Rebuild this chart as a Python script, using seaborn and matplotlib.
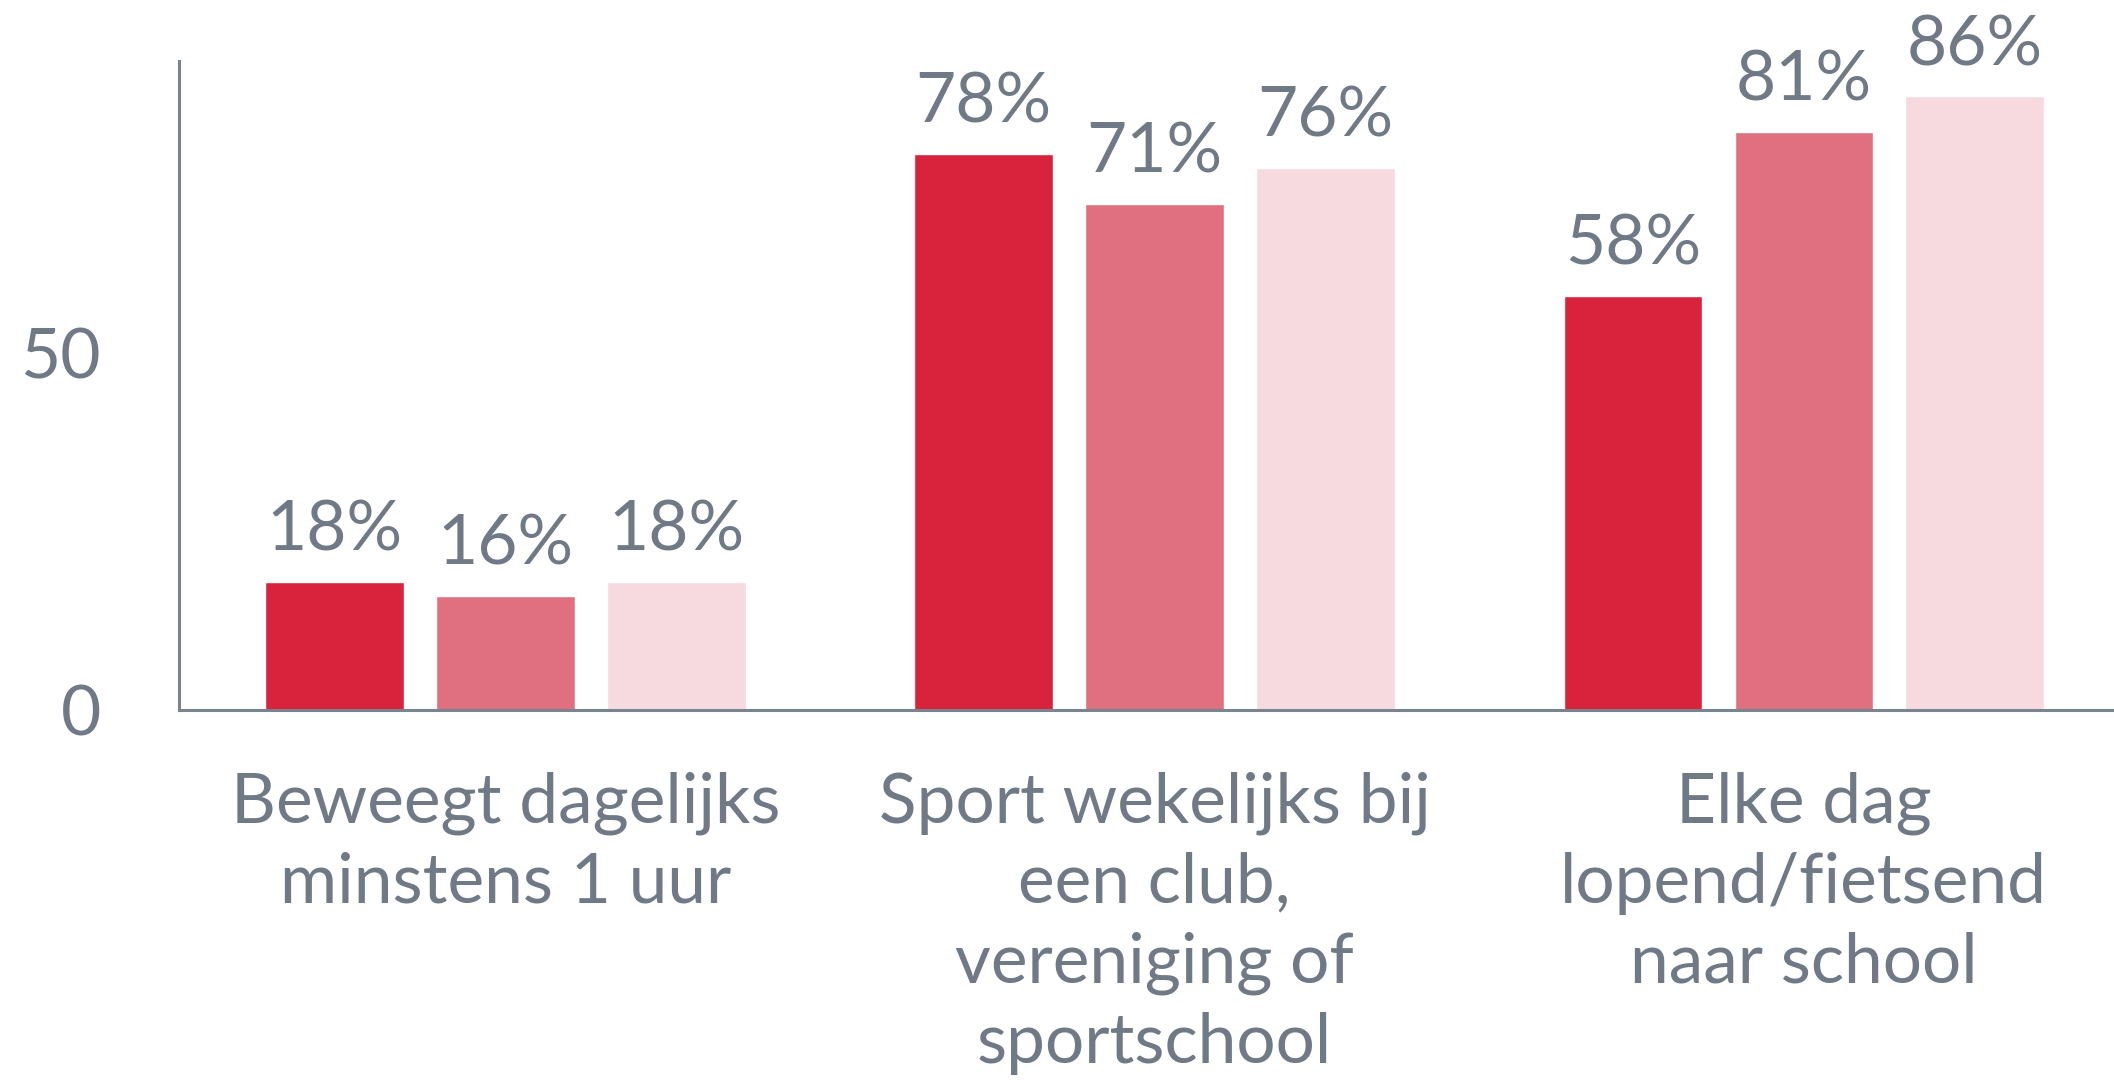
import numpy as np
import pandas as pd
import seaborn as sns
import matplotlib
matplotlib.use("Agg")
import matplotlib.pyplot as plt

# data
categories = [
    "Beweegt dagelijks\nminstens 1 uur",
    "Sport wekelijks bij\neen club,\nvereniging of\nsportschool",
    "Elke dag\nlopend/fietsend\nnaar school",
]
series = ["reeks 1", "reeks 2", "reeks 3"]
values_1 = [18, 78, 58]
values_2 = [16, 71, 81]
values_3 = [18, 76, 86]
yticks = [0, 50]

colors = ["#D9233D", "#E07080", "#F7DAE0"]
grey = "#6F7A86"
axis_grey = "#7A848F"

df = pd.DataFrame({
    "categorie": categories * 3,
    "reeks": [s for s in series for _ in categories],
    "waarde": values_1 + values_2 + values_3,
})

sns.set_theme(style="white")
plt.rcParams["font.family"] = ["Lato", "DejaVu Sans"]

fig = plt.figure(figsize=(21.14, 10.86), dpi=100)
ax = fig.add_axes([0.0847, 0.346, 0.9153, 0.598])

sns.barplot(data=df, x="categorie", y="waarde", hue="reeks",
            palette=colors, width=0.79, gap=0.19, legend=False, ax=ax,
            saturation=1, errorbar=None)

for c in ax.containers:
    ax.bar_label(c, labels=[f"{int(v)}%" for v in c.datavalues],
                 padding=14, fontsize=50, color=grey, clip_on=False)

ax.set_ylim(0, 91)
ax.set_xlim(-0.503, 2.478)
ax.set_yticks(yticks)
ax.set_xlabel("")
ax.set_ylabel("")

ax.tick_params(axis="y", length=0, pad=56, labelsize=50, labelcolor=grey)
ax.tick_params(axis="x", length=0, pad=44, labelsize=50, labelcolor=grey)
for lab in ax.get_xticklabels():
    lab.set_linespacing(1.33)

sns.despine(ax=ax, top=True, right=True)
ax.spines["left"].set_color(axis_grey)
ax.spines["bottom"].set_color(axis_grey)
ax.spines["left"].set_linewidth(2.2)
ax.spines["bottom"].set_linewidth(2.2)

fig.savefig("out.png", dpi=100, facecolor="white")
